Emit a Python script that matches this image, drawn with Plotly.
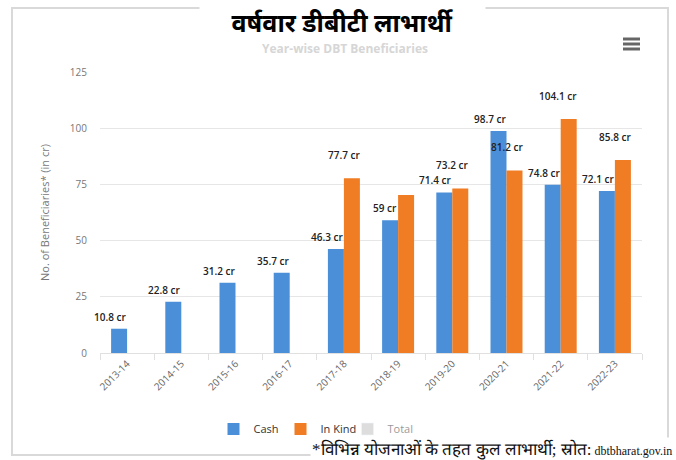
import plotly.graph_objects as go

categories = ["2013-14", "2014-15", "2015-16", "2016-17", "2017-18",
              "2018-19", "2019-20", "2020-21", "2021-22", "2022-23"]
cash = [10.8, 22.8, 31.2, 35.7, 46.3, 59, 71.4, 98.7, 74.8, 72.1]
in_kind = [None, None, None, None, 77.7, 70.3, 73.2, 81.2, 104.1, 85.8]
total = [10.8, 22.8, 31.2, 35.7, 124.0, 129.3, 144.6, 179.9, 178.9, 157.9]
cash_labels = ["10.8 cr", "22.8 cr", "31.2 cr", "35.7 cr", "46.3 cr",
               "59 cr", "71.4 cr", "98.7 cr", "74.8 cr", "72.1 cr"]
kind_labels = ["", "", "", "", "77.7 cr", "", "73.2 cr", "81.2 cr", "104.1 cr", "85.8 cr"]

title_text = "वर्षवार डीबीटी लाभार्थी"
subtitle_text = "Year-wise DBT Beneficiaries"
footnote_hi = "*विभिन्न योजनाओं के तहत कुल लाभार्थी; स्रोत:"
footnote_src = "dbtbharat.gov.in"
y_title = "No. of Beneficiaries* (in cr)"

W, H = 676, 460
L, R, T, B = 100, 34, 72, 107
PW, PH = W - L - R, H - T - B


def px(x):
    return (x - L) / PW


def py(y):
    return (H - B - y) / PH


BLUE = "#4b8fd8"
ORANGE = "#f07d24"

fig = go.Figure()
fig.add_trace(go.Bar(name="Cash", x=categories, y=cash, marker_color=BLUE,
                     marker_line_width=0))
fig.add_trace(go.Bar(name="In Kind", x=categories, y=in_kind, marker_color=ORANGE,
                     marker_line_width=0))
fig.add_trace(go.Bar(name="Total", x=categories, y=total, marker_color="#bdbdbd",
                     visible="legendonly"))

annotations = []
lab_font = dict(family="Open Sans, sans-serif", size=10, color="#222222", weight=600)
for c, v, t in zip(categories, cash, cash_labels):
    if t:
        annotations.append(dict(x=c, y=v, xref="x", yref="y", text=t, showarrow=False,
                                xanchor="right", yanchor="bottom", xshift=1, yshift=3,
                                font=lab_font))
for c, v, t in zip(categories, in_kind, kind_labels):
    if t and v is not None:
        annotations.append(dict(x=c, y=v, xref="x", yref="y", text=t, showarrow=False,
                                xanchor="right", yanchor="bottom", xshift=18, yshift=14,
                                font=lab_font))

# faint subtitle partly hidden by title box
annotations.append(dict(x=px(345), y=py(48), xref="paper", yref="paper", text="<b>" + subtitle_text + "</b>",
                        showarrow=False, xanchor="center", yanchor="middle",
                        font=dict(family="Open Sans, sans-serif", size=12, color="#d6d6d6")))
annotations.append(dict(x=px(342), y=py(22), xref="paper", yref="paper", text="<b>" + title_text + "</b>",
                        showarrow=False, xanchor="center", yanchor="middle",
                        width=285, height=34, bgcolor="white", borderpad=0,
                        font=dict(family="Noto Sans, sans-serif", size=25, color="#000000")))
annotations.append(dict(x=px(674), y=py(449), xref="paper", yref="paper",
                        text='<span style="font-size:17px">' + footnote_hi + '</span> ' + footnote_src,
                        showarrow=False, xanchor="right", yanchor="middle", bgcolor="white",
                        font=dict(family="Liberation Serif, DejaVu Serif, serif", size=12, color="#111111")))

shapes = [
    dict(type="rect", xref="paper", yref="paper", x0=px(12), x1=px(668), y0=py(455), y1=py(8),
         line=dict(color="#d9d9d9", width=2), fillcolor="rgba(0,0,0,0)", layer="below"),
]
for yy in (39, 44, 49):
    shapes.append(dict(type="line", xref="paper", yref="paper", x0=px(623), x1=px(640),
                       y0=py(yy), y1=py(yy), line=dict(color="#666666", width=3)))

fig.update_layout(
    width=W, height=H,
    margin=dict(l=L, r=R, t=T, b=B),
    paper_bgcolor="white", plot_bgcolor="white",
    barmode="group", bargap=0.41, bargroupgap=0,
    font=dict(family="Open Sans, sans-serif", color="#666666"),
    showlegend=True,
    legend=dict(orientation="h", x=px(314), xanchor="center", y=py(429), yanchor="middle",
                font=dict(size=11, color="#333333"), itemwidth=30, traceorder="normal",
                entrywidth=22),
    annotations=annotations,
    shapes=shapes,
)
fig.update_yaxes(range=[0, 125], tickvals=[0, 25, 50, 75, 100, 125], automargin=False,
                 showgrid=True, gridcolor="#e6e6e6", gridwidth=1, zeroline=False,
                 tickfont=dict(size=10, color="#777777"), ticks="", ticklabelstandoff=12,
                 title=dict(text=y_title, font=dict(size=11, color="#777777"), standoff=17))
fig.update_xaxes(range=[-0.5, len(categories) - 0.5], tickangle=-45,
                 tickfont=dict(size=10, color="#666666"), automargin=False,
                 showline=True, linecolor="#e0e0e0", ticks="outside", ticklen=6,
                 tickcolor="#e0e0e0", tickson="boundaries", showgrid=False)

fig.write_html("out.html")
